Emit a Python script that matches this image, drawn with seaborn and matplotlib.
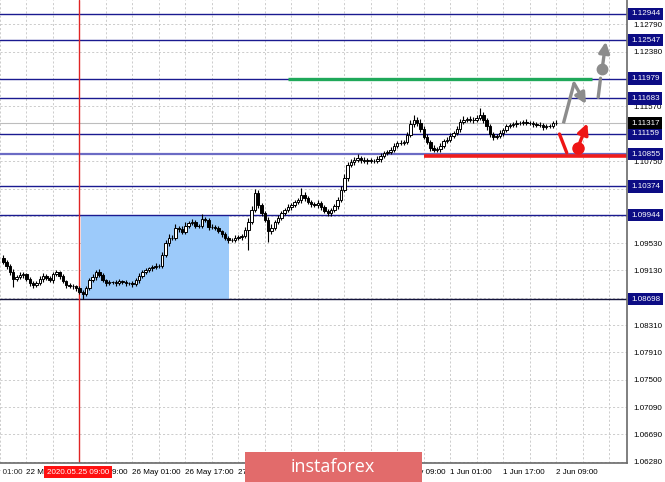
import numpy as np
import pandas as pd
import matplotlib
matplotlib.use("Agg")
import matplotlib.pyplot as plt
import matplotlib.transforms as mtransforms
from matplotlib.patches import Rectangle
import seaborn as sns

# EURUSD H1 candles, bar 0 = 2020.05.25 09:00
first_open = 1.0931
closes = [
    1.0925, 1.0919, 1.0910, 1.0900, 1.0903, 1.0906, 1.0907, 1.0900, 1.0894, 1.0891, 1.0894, 1.0900, 1.0904, 1.0901, 1.0898, 1.0907,
    1.0910, 1.0904, 1.0897, 1.0891, 1.0889, 1.0889, 1.0886, 1.0880, 1.0878, 1.0886, 1.0898, 1.0903, 1.0910, 1.0906, 1.0898, 1.0894,
    1.0895, 1.0895, 1.0894, 1.0897, 1.0895, 1.0894, 1.0894, 1.0892, 1.0898, 1.0904, 1.0910, 1.0913, 1.0916, 1.0918, 1.0919, 1.0919,
    1.0936, 1.0953, 1.0961, 1.0961, 1.0976, 1.0974, 1.0970, 1.0979, 1.0983, 1.0985, 1.0979, 1.0979, 1.0989, 1.0988, 1.0977, 1.0977,
    1.0976, 1.0971, 1.0967, 1.0961, 1.0958, 1.0958, 1.0961, 1.0962, 1.0964, 1.0973, 1.0985, 1.1002, 1.1028, 1.1010, 1.0998, 1.0988,
    1.0971, 1.0976, 1.0985, 1.0991, 1.0998, 1.1002, 1.1007, 1.1010, 1.1014, 1.1017, 1.1025, 1.1020, 1.1014, 1.1011, 1.1010, 1.1013,
    1.1007, 1.1001, 1.0998, 1.1002, 1.1008, 1.1017, 1.1032, 1.1050, 1.1069, 1.1074, 1.1077, 1.1080, 1.1077, 1.1075, 1.1077, 1.1075,
    1.1075, 1.1078, 1.1083, 1.1087, 1.1089, 1.1092, 1.1098, 1.1102, 1.1102, 1.1104, 1.1114, 1.1130, 1.1136, 1.1132, 1.1123, 1.1111,
    1.1104, 1.1095, 1.1092, 1.1093, 1.1098, 1.1105, 1.1107, 1.1113, 1.1117, 1.1123, 1.1133, 1.1136, 1.1138, 1.1136, 1.1136, 1.1139,
    1.1144, 1.1136, 1.1127, 1.1115, 1.1111, 1.1113, 1.1117, 1.1121, 1.1127, 1.1129, 1.1130, 1.1132, 1.1132, 1.1133, 1.1132, 1.1132,
    1.1130, 1.1129, 1.1129, 1.1126, 1.1127, 1.1127, 1.1132, 1.11317,
]
# wick lengths in pips
upper_wick = [
    4, 3, 3, 4, 3, 4, 3, 2, 3, 3, 3, 5, 4, 3, 4, 3,
    3, 2, 3, 2, 3, 3, 2, 3, 4, 3, 4, 4, 3, 5, 3, 2,
    3, 2, 3, 3, 2, 3, 2, 3, 3, 4, 3, 3, 2, 3, 4, 3,
    4, 5, 6, 4, 5, 3, 4, 5, 3, 4, 3, 3, 8, 3, 3, 4,
    3, 3, 2, 3, 3, 3, 4, 3, 3, 4, 5, 6, 5, 4, 3, 3,
    4, 5, 3, 4, 3, 3, 4, 3, 4, 3, 10, 4, 3, 3, 3, 4,
    3, 3, 3, 4, 4, 5, 6, 6, 5, 4, 4, 5, 3, 4, 3, 3,
    3, 4, 4, 3, 3, 4, 4, 3, 4, 3, 5, 6, 8, 4, 5, 4,
    4, 3, 4, 3, 4, 3, 4, 4, 3, 5, 4, 6, 3, 4, 4, 5,
    10, 4, 3, 4, 3, 3, 4, 3, 4, 3, 3, 4, 3, 3, 4, 3,
    3, 3, 4, 3, 3, 4, 3, 4,
]
lower_wick = [
    3, 4, 4, 12, 3, 3, 4, 3, 4, 5, 3, 3, 4, 3, 3, 4,
    3, 4, 3, 4, 3, 4, 4, 3, 8, 4, 3, 3, 4, 3, 3, 4,
    3, 3, 4, 3, 3, 4, 3, 4, 3, 4, 3, 3, 3, 4, 3, 3,
    3, 3, 4, 3, 3, 4, 3, 3, 4, 3, 3, 3, 4, 3, 4, 3,
    3, 3, 4, 3, 4, 3, 3, 3, 4, 3, 30, 4, 3, 4, 4, 4,
    16, 4, 3, 4, 3, 3, 3, 4, 3, 3, 4, 4, 3, 4, 3, 4,
    4, 3, 5, 4, 3, 4, 3, 3, 4, 3, 4, 3, 4, 3, 4, 3,
    3, 3, 4, 3, 3, 4, 3, 4, 3, 3, 4, 3, 4, 4, 4, 3,
    4, 5, 4, 3, 4, 3, 3, 4, 3, 3, 4, 3, 3, 3, 4, 3,
    3, 4, 5, 4, 5, 3, 3, 4, 3, 3, 3, 4, 3, 3, 3, 3,
    4, 3, 3, 4, 3, 3, 3, 3,
]
first_bar = -23

tick_bars = [-16, 0, 16, 32, 48, 64, 80, 96, 112, 128, 144]
tick_labels = ["22 May 17:00", "25 May 09:00", "26 May 01:00", "26 May 17:00", "27 May 09:00",
               "28 May 01:00", "28 May 17:00", "29 May 09:00", "1 Jun 01:00", "1 Jun 17:00", "2 Jun 09:00"]
hidden_label = (-32, "22 May 01:00")

price_ticks = [1.06280, 1.06690, 1.07090, 1.07500, 1.07910, 1.08310, 1.08720, 1.09130, 1.09530,
               1.09940, 1.10340, 1.10750, 1.11160, 1.11570, 1.11970, 1.12380, 1.12790]

levels = [1.12944, 1.12547, 1.11979, 1.11683, 1.11159, 1.10855, 1.10374, 1.09944, 1.08698]
current_price = 1.11317

zone_bars = (0.6, 45.2)
zone_prices = (1.08698, 1.09944)
resist_bars = (63.0, 154.8)
resist_price = 1.11965
support_start = 104.2
support_price = 1.10827
marker_bar = 0

# forecast arrows (bar, price)
grey_zig = [(146.2, 1.11313), (149.4, 1.11908), (153.0, 1.11600)]
grey_up = [(156.7, 1.11700), (157.4, 1.11983)]
grey_dot = (157.9, 1.12121)
grey_tip = (159.0, 1.12527)
red_down = [(145.0, 1.11154), (147.2, 1.10876)]
red_dot = (150.5, 1.10942)
red_tip = (153.4, 1.11313)

df = pd.DataFrame({"bar": np.arange(first_bar, first_bar + len(closes)), "close": closes})
df["open"] = df["close"].shift(1).fillna(first_open)
df["high"] = df[["open", "close"]].max(axis=1) + np.array(upper_wick) / 10000
df["low"] = df[["open", "close"]].min(axis=1) - np.array(lower_wick) / 10000
df["bull"] = df["close"] >= df["open"]

sns.set_style("white")
plt.rcParams["font.family"] = ["Liberation Sans", "DejaVu Sans"]

fig = plt.figure(figsize=(6.65, 4.82), dpi=100)
ax = fig.add_axes([0, 19 / 482, 627 / 665, 463 / 482])
ax.set_xlim(-23.5, 165.4)
ax.set_ylim(1.06262, 1.13147)

# grid
ax.set_xticks(tick_bars)
ax.set_xticks(np.arange(-24, 166, 8), minor=True)
ax.set_xticklabels(tick_labels)
for lbl in ax.get_xticklabels():
    lbl.set_ha("left")
ax.set_yticks(price_ticks)
ax.set_yticklabels([f"{p:.5f}" for p in price_ticks])
ax.yaxis.tick_right()
ax.grid(True, which="both", axis="x", color="#c4c4c4", lw=0.6, ls=(0, (2.5, 2.5)))
ax.grid(True, which="major", axis="y", color="#c4c4c4", lw=0.6, ls=(0, (2.5, 2.5)))
ax.set_axisbelow(True)
ax.tick_params(axis="x", which="major", length=2.5, width=0.7, pad=1.5, labelsize=5.8, colors="black")
ax.tick_params(axis="x", which="minor", length=0)
ax.tick_params(axis="y", which="major", length=2.5, width=0.7, pad=2, labelsize=5.8, colors="black")

sns.despine(ax=ax, left=True, top=True, right=False, bottom=False)
for side in ["right", "bottom"]:
    ax.spines[side].set_color("#6a6a6a")
    ax.spines[side].set_linewidth(1.2)

# zone
ax.add_patch(Rectangle((zone_bars[0], zone_prices[0]), zone_bars[1] - zone_bars[0],
                       zone_prices[1] - zone_prices[0], facecolor="#9ccafa", edgecolor="none", zorder=1))
ax.axvline(marker_bar, color="#e02424", lw=1.0, zorder=2.5)

# levels
for lv in levels:
    col, lw = "#1a1a90", 1.0
    if lv == 1.10855:
        col, lw = "#6b6bc4", 1.6
    if lv == 1.08698:
        col = "#14143c"
    ax.axhline(lv, color=col, lw=lw, zorder=2)
ax.axhline(current_price, color="#bdbdbd", lw=0.8, zorder=1.8)
ax.hlines(resist_price, resist_bars[0], resist_bars[1], color="#1fa85a", lw=2.4, zorder=2.2)
ax.hlines(support_price, support_start, 165.4, color="#f01c1c", lw=2.6, zorder=2.2)

# candles
ax.vlines(df["bar"], df["low"], df["high"], color="black", lw=0.8, zorder=3)
heights = (df["close"] - df["open"]).abs().clip(lower=0.00003)
bottoms = df[["open", "close"]].min(axis=1)
ax.bar(df["bar"], heights, bottom=bottoms, width=0.74,
       color=np.where(df["bull"], "white", "black"), edgecolor="black", linewidth=0.7, zorder=4)

# forecast arrows
grey = "#8c8c8c"
red = "#ee1515"
arrow_kw = dict(arrowstyle="-|>", lw=2.4, mutation_scale=16, shrinkA=0, shrinkB=0)
ax.plot([p[0] for p in grey_zig[:2]], [p[1] for p in grey_zig[:2]], color=grey, lw=2.4,
        solid_capstyle="butt", zorder=6)
ax.annotate("", xy=grey_zig[2], xytext=grey_zig[1], arrowprops=dict(color=grey, **arrow_kw), zorder=6)
ax.plot([p[0] for p in grey_up], [p[1] for p in grey_up], color=grey, lw=2.4, zorder=6)
ax.plot(*grey_dot, "o", color=grey, ms=7.5, zorder=6)
ax.annotate("", xy=grey_tip, xytext=grey_dot, arrowprops=dict(color=grey, **arrow_kw), zorder=6)
ax.plot([p[0] for p in red_down], [p[1] for p in red_down], color=red, lw=2.4, zorder=6)
ax.plot(*red_dot, "o", color=red, ms=8, zorder=6)
ax.annotate("", xy=red_tip, xytext=red_dot, arrowprops=dict(color=red, **arrow_kw), zorder=6)

# price labels on the right
trans = mtransforms.blended_transform_factory(ax.transAxes, ax.transData)
for lv in levels:
    ax.text(1.0 + 4 / 627, lv, f"{lv:.5f}", transform=trans, ha="left", va="center", fontsize=5.8,
            color="white", clip_on=False, zorder=10,
            bbox=dict(boxstyle="square,pad=0.32", fc="#0c0c84", ec="none"))
ax.text(1.0 + 4 / 627, current_price, f"{current_price:.5f}", transform=trans, ha="left", va="center",
        fontsize=5.8, color="white", clip_on=False, zorder=10,
        bbox=dict(boxstyle="square,pad=0.32", fc="black", ec="none"))

# clipped label at the left edge
xtrans = mtransforms.blended_transform_factory(ax.transData, ax.transAxes)
ax.text(hidden_label[0], -5.6 / 463, hidden_label[1], transform=xtrans, ha="left", va="top",
        fontsize=5.8, clip_on=False)

# date marker box
fig.text(78 / 665, 10 / 482, "2020.05.25 09:00", color="white", fontsize=5.8, ha="center", va="center",
         zorder=8, bbox=dict(boxstyle="square,pad=0.3", fc="#ff1010", ec="none"))

# banner
fig.patches.append(Rectangle((245 / 665, 0), 177 / 665, 30 / 482, transform=fig.transFigure,
                             facecolor="#e26b6b", edgecolor="none", zorder=5))
fig.text(333 / 665, 15 / 482, "instaforex", color="white", fontsize=13, ha="center", va="center",
         family="Open Sans", zorder=6)

fig.savefig("out.png", dpi=100)
